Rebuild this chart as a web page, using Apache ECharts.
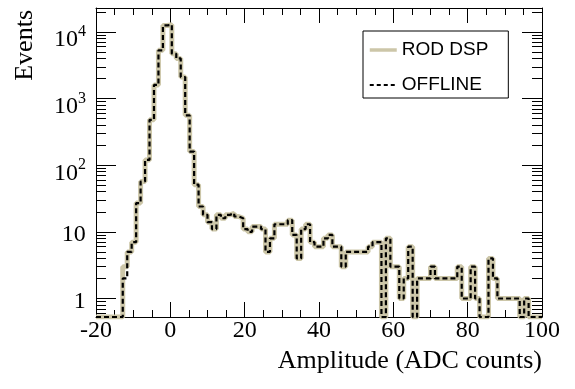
<!DOCTYPE html>
<html>
<head>
<meta charset="utf-8">
<script src="https://cdn.jsdelivr.net/npm/echarts@6/dist/echarts.min.js"></script>
<style>
  html, body { margin: 0; padding: 0; background: #fff; }
  #chart { width: 575px; height: 389px; }
</style>
</head>
<body>
<div id="chart"></div>
<script>
// histogram binning: 100 bins of 1.2 ADC counts from -20 to 100
const binMin = -20
const binWidth = 1.2

// counts per bin
const rodDsp = [
  0, 0, 0, 0, 0, 0, 3, 5, 7, 27,
  57, 120, 480, 1600, 5300, 12500, 12800, 4700, 4000, 2100,
  560, 160, 51, 24, 18, 14, 11, 18, 16, 18,
  19, 17, 16, 11, 10, 12, 12, 11, 5, 8,
  13, 13, 13, 15, 9, 4, 11, 13, 7, 6,
  6, 8, 9, 6, 6, 3, 5, 5, 5, 5,
  5, 6, 7, 7, 0, 8, 3, 3, 1, 2,
  6, 0, 2, 2, 2, 3, 2, 2, 2, 2,
  2, 3, 1, 1, 3, 1, 0, 0, 4, 2,
  1, 1, 1, 1, 1, 0, 1, 0, 0, 0
]
const offline = [
  0, 0, 0, 0, 0, 0, 2, 5, 7, 27,
  57, 120, 480, 1600, 5300, 12500, 12800, 4700, 4000, 2100,
  560, 160, 51, 24, 18, 14, 11, 18, 16, 18,
  19, 17, 16, 11, 10, 12, 12, 11, 5, 8,
  13, 13, 13, 15, 9, 4, 11, 13, 7, 6,
  6, 8, 9, 6, 6, 3, 5, 5, 5, 5,
  5, 6, 7, 7, 0, 8, 3, 3, 1, 2,
  6, 0, 2, 2, 2, 3, 2, 2, 2, 2,
  2, 3, 1, 1, 3, 1, 0, 0, 4, 2,
  1, 1, 1, 1, 1, 0, 1, 0, 0, 0
]

const legends = ['ROD DSP', 'OFFLINE']
const yMajor = [1, 10, 100, 1000, 10000]
const yMinor = [
  0.6, 0.7, 0.8, 0.9,
  2, 3, 4, 5, 6, 7, 8, 9,
  20, 30, 40, 50, 60, 70, 80, 90,
  200, 300, 400, 500, 600, 700, 800, 900,
  2000, 3000, 4000, 5000, 6000, 7000, 8000, 9000,
  20000
]
const Y_MIN = 0.528
const Y_MAX = 22850

const serif = 'Liberation Serif'
const tan = '#ccc6a8'

// empty bins sit on the lower frame, like ROOT draws them
function toSteps(counts) {
  const pts = counts.map((c, i) => [binMin + i * binWidth, c > 0 ? c : Y_MIN])
  pts.push([binMin + counts.length * binWidth, pts[pts.length - 1][1]])
  return pts
}

const black = { color: '#000', width: 1 }

const xBase = {
  type: 'value',
  min: -20,
  max: 100,
  interval: 20,
  axisLine: { show: true, onZero: false, lineStyle: black },
  axisTick: { show: true, inside: true, length: 15, lineStyle: black },
  minorTick: { show: true, splitNumber: 4, length: 7, lineStyle: black },
  splitLine: { show: false },
  minorSplitLine: { show: false },
}

const yBase = {
  type: 'log',
  logBase: 10,
  min: Y_MIN,
  max: Y_MAX,
  axisLine: { show: false, onZero: false },
  axisLabel: { show: false },
  splitLine: { show: false },
}

const option = {
  animation: false,
  textStyle: { fontFamily: serif },
  grid: { left: 96, right: 33, top: 8, bottom: 72 },
  legend: {
    data: [
      { name: legends[0], lineStyle: { width: 3.5 } },
      { name: legends[1], lineStyle: { width: 2, type: [4, 3] } },
    ],
    orient: 'vertical',
    left: 363,
    top: 31,
    itemWidth: 27,
    itemHeight: 22,
    itemGap: 13,
    padding: [8, 20, 2, 5],
    borderColor: '#000',
    borderWidth: 1,
    backgroundColor: '#fff',
    selectedMode: false,
    itemStyle: { opacity: 0 },
    textStyle: { fontFamily: 'Liberation Sans', fontSize: 19, lineHeight: 22, color: '#000' },
  },
  xAxis: [
    {
      ...xBase,
      position: 'bottom',
      name: 'Amplitude (ADC counts)',
      nameLocation: 'end',
      nameGap: 0,
      nameMoveOverlap: false,
      nameTextStyle: {
        fontFamily: serif, fontSize: 26, lineHeight: 26, color: '#000',
        align: 'right', verticalAlign: 'top', padding: [31, 0, 0, 0]
      },
      axisLabel: { color: '#000', fontFamily: serif, fontSize: 24, lineHeight: 24, margin: 2 },
    },
    {
      ...xBase,
      position: 'top',
      axisLabel: { show: false },
    }
  ],
  yAxis: [
    {
      ...yBase,
      position: 'left',
      name: 'Events',
      nameLocation: 'end',
      nameGap: -2,
      nameRotate: 90,
      nameMoveOverlap: false,
      nameTextStyle: {
        fontFamily: serif, fontSize: 26, lineHeight: 26, color: '#000',
        align: 'right', verticalAlign: 'bottom', padding: [0, 0, 58, 0]
      },
      axisLine: { show: true, onZero: false, lineStyle: black },
      axisTick: { show: true, inside: true, length: 20, customValues: yMajor, lineStyle: black },
      axisLabel: {
        show: true,
        customValues: yMajor,
        margin: 10,
        color: '#000',
        formatter: (v) => {
          const e = Math.round(Math.log10(v))
          return e < 2 ? '{n|' + Math.round(v) + '}{p| }' : '{b|10}{s|' + e + '}'
        },
        rich: {
          n: { fontFamily: serif, fontSize: 24, lineHeight: 24, verticalAlign: 'bottom', color: '#000' },
          p: { fontSize: 1, lineHeight: 30 },
          b: { fontFamily: serif, fontSize: 24, lineHeight: 24, verticalAlign: 'bottom', color: '#000' },
          s: { fontFamily: serif, fontSize: 16, lineHeight: 40, color: '#000' },
        }
      },
    },
    {
      ...yBase,
      position: 'left',
      axisTick: { show: true, inside: true, length: 10, customValues: yMinor, lineStyle: black },
    },
    {
      ...yBase,
      position: 'right',
      axisLine: { show: true, onZero: false, lineStyle: black },
      axisTick: { show: true, inside: true, length: 20, customValues: yMajor, lineStyle: black },
    },
    {
      ...yBase,
      position: 'right',
      axisTick: { show: true, inside: true, length: 10, customValues: yMinor, lineStyle: black },
    }
  ],
  series: [
    {
      name: legends[0],
      data: toSteps(rodDsp),
      lineStyle: { color: tan, width: 5 },
      itemStyle: { color: tan },
      z: 2,
    },
    {
      name: legends[1],
      data: toSteps(offline),
      lineStyle: { color: '#000', width: 2.2, type: [5, 3] },
      itemStyle: { color: '#000' },
      z: 3,
    }
  ].map(o => ({
    ...o,
    type: 'line',
    step: 'end',
    symbol: 'none',
    clip: true,
    xAxisIndex: 0,
    yAxisIndex: 0,
  }))
}

const myChart = echarts.init(document.getElementById('chart'))
myChart.setOption(option)
</script>
</body>
</html>
